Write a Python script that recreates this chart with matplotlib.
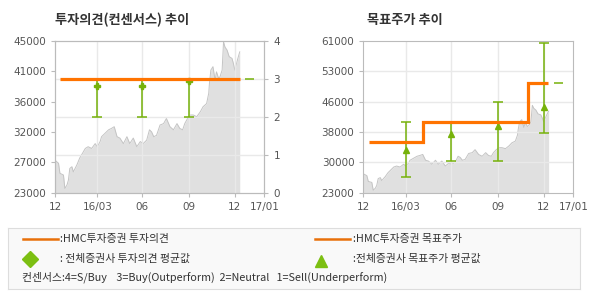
import numpy as np
import matplotlib
matplotlib.use("Agg")
import matplotlib.pyplot as plt

plt.rcParams['font.family'] = ['Noto Sans CJK KR', 'DejaVu Sans']

# 거래일 인덱스 기준 (12월 시작 = 0)
price_days = [0, 5, 7, 12, 14, 17, 19, 21, 24, 26, 31, 35, 39, 43, 47, 52, 57, 60,
              64, 66, 71, 76, 80, 84, 88, 92, 97, 102, 106, 111, 116, 121, 125,
              130, 134, 137, 140, 144, 149, 154, 158, 163, 168, 173, 177, 181,
              184, 188, 192, 196, 201, 206, 210, 215, 218, 219, 221, 224, 227,
              229, 232, 234, 237, 239, 241, 244, 247, 251, 253, 255, 258, 260, 262]
price = [27700, 27250, 25800, 25550, 23600, 24100, 24800, 26500, 26750, 26000,
         27000, 28000, 28700, 29400, 29650, 29400, 30100, 29650, 30400, 31100,
         31600, 32100, 32300, 32550, 31100, 30900, 30100, 31100, 30100, 30900,
         29650, 30400, 30100, 30600, 32100, 31800, 31100, 31300, 32800, 33000,
         33750, 32550, 32100, 33000, 32300, 32100, 33000, 33750, 34250, 34250,
         34000, 34700, 35450, 35900, 37400, 38800, 40750, 41250, 39300, 40500,
         39550, 39800, 40750, 44850, 44100, 43650, 42700, 42450, 41700, 40750,
         41950, 42700, 43400]

xtick_days = [0, 60, 124, 190, 255, 297]
xtick_labels = ['12', '16/03', '06', '09', '12', '17/01']

# 투자의견
opinion_edges = [7, 262]
opinion = [3]
cons_days = [60, 124, 190]
cons_avg = [2.8, 2.8, 2.95]
cons_low = [2, 2, 2]
cons_high = [3, 3, 3]
latest_span = [270, 282]

# 목표주가
tp_edges = [8, 84, 233, 261]
tp = [35700, 40600, 50500]
tp_days = [60, 124, 190, 255]
tp_avg = [33700, 37700, 39700, 44400]
tp_low = [26800, 30800, 30800, 37800]
tp_high = [40700, 40700, 45600, 60500]
tp_latest = 50500

left_ticks = ['23000', '27000', '32000', '36000', '41000', '45000']
right_ticks = ['23000', '30000', '38000', '46000', '53000', '61000']

ORANGE = '#ff7300'
GREEN = '#76b20a'
SPINE = '#bbbbbb'
GRID = '#e9e9e9'
TICKC = '#555555'


def style_axis(ax):
    for s in ax.spines.values():
        s.set_color(SPINE)
    ax.tick_params(colors=SPINE, labelcolor=TICKC, labelsize=7.5, length=3, width=0.8)
    for lbl in ax.get_xticklabels() + ax.get_yticklabels():
        lbl.set_family('DejaVu Sans')


def draw_price(ax, ymin):
    ax.fill_between(price_days, ymin, price, color='#e0e0e0', lw=0, zorder=1)
    ax.plot(price_days, price, color='#c4c4c4', lw=0.7, zorder=1.5)


fig = plt.figure(figsize=(5.9, 3.0), dpi=100)

# ---- 투자의견(컨센서스) 추이 ----
ax1 = fig.add_axes([0.0932, 0.358, 0.355, 0.506])
draw_price(ax1, 23000)
ax1.set_xlim(0, 297)
ax1.set_ylim(23000, 45000)
ax1.set_yticks(np.linspace(23000, 45000, 6))
ax1.set_yticklabels(left_ticks)
ax1.set_xticks(xtick_days)
ax1.set_xticklabels(xtick_labels)
style_axis(ax1)

ax1b = ax1.twinx()
ax1b.set_ylim(0, 4)
ax1b.set_yticks([0, 1, 2, 3, 4])
style_axis(ax1b)
for v in [1, 2, 3]:
    ax1b.axhline(v, color=GRID, lw=1, zorder=0.5)
for d in xtick_days[1:-1]:
    ax1b.axvline(d, color=GRID, lw=1, zorder=0.5)
yerr = [np.array(cons_avg) - np.array(cons_low), np.array(cons_high) - np.array(cons_avg)]
ax1b.errorbar(cons_days, cons_avg, yerr=yerr, fmt='P', color=GREEN, ms=4.5,
              elinewidth=1.1, capsize=3.5, capthick=1.1, zorder=3)
ax1b.stairs(opinion, opinion_edges, baseline=None, color=ORANGE, lw=2.3, zorder=4)
ax1b.hlines(opinion[-1], latest_span[0], latest_span[1], color=GREEN, lw=1.1, zorder=4)

fig.text(55 / 590, 1 - 20 / 300, '투자의견(컨센서스) 추이', fontsize=9.5,
         fontweight='bold', color='#333333', va='center', ha='left')

# ---- 목표주가 추이 ----
ax2 = fig.add_axes([0.6158, 0.358, 0.356, 0.506])
draw_price(ax2, 23000)
ax2.set_xlim(0, 297)
ax2.set_ylim(23000, 61000)
yt = np.linspace(23000, 61000, 6)
ax2.set_yticks(yt)
ax2.set_yticklabels(right_ticks)
ax2.set_xticks(xtick_days)
ax2.set_xticklabels(xtick_labels)
style_axis(ax2)
for v in yt[1:-1]:
    ax2.axhline(v, color=GRID, lw=1, zorder=2)
for d in xtick_days[1:-1]:
    ax2.axvline(d, color=GRID, lw=1, zorder=2)
yerr2 = [np.array(tp_avg) - np.array(tp_low), np.array(tp_high) - np.array(tp_avg)]
ax2.errorbar(tp_days, tp_avg, yerr=yerr2, fmt='^', color=GREEN, ms=4,
             elinewidth=1.1, capsize=3.5, capthick=1.1, zorder=3)
ax2.stairs(tp, tp_edges, baseline=None, color=ORANGE, lw=2.3, zorder=4)
ax2.hlines(tp_latest, latest_span[0], latest_span[1], color=GREEN, lw=1.1, zorder=4)
ax2.tick_params(axis='y', right=False)

fig.text(367 / 590, 1 - 20 / 300, '목표주가 추이', fontsize=9.5,
         fontweight='bold', color='#333333', va='center', ha='left')

# ---- 범례 ----
lg = fig.add_axes([8 / 590, 11 / 300, 572 / 590, 61 / 300])
lg.set_facecolor('#f9f9f9')
for s in lg.spines.values():
    s.set_color('#dddddd')
lg.set_xticks([])
lg.set_yticks([])
lg.set_xlim(0, 572)
lg.set_ylim(61, 0)

fs = 7.8
tc = '#333333'
lg.plot([15, 50], [11, 11], color='#e8700a', lw=1.8)
lg.text(52, 11, ':HMC투자증권 투자의견', fontsize=fs, color=tc, va='center')
lg.plot([307, 342], [11, 11], color='#e8700a', lw=1.8)
lg.text(345, 11, ':HMC투자증권 목표주가', fontsize=fs, color=tc, va='center')
lg.plot([22], [31], marker='D', ms=8, color='#7cbf12', lw=0)
lg.text(52, 31, ': 전체증권사 투자의견 평균값', fontsize=fs, color=tc, va='center')
lg.plot([313], [33], marker='^', ms=8, color='#7cbf12', lw=0)
lg.text(345, 31, ':전체증권사 목표주가 평균값', fontsize=fs, color=tc, va='center')
lg.text(14, 49, '컨센서스:4=S/Buy    3=Buy(Outperform)  2=Neutral   1=Sell(Underperform)',
        fontsize=fs, color=tc, va='center')

fig.savefig('out.png', dpi=100)
